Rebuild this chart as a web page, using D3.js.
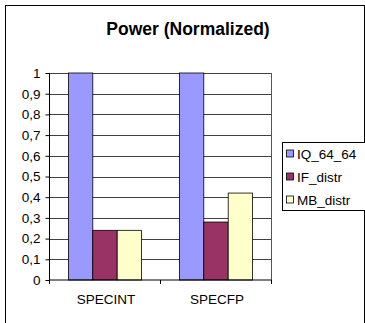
<!DOCTYPE html>
<html><head><meta charset="utf-8">
<script src="https://cdn.jsdelivr.net/npm/d3@7"></script>
<style>body{margin:0;background:#fff}svg{display:block}</style>
</head><body>
<script>
const categories = ["SPECINT", "SPECFP"];
const seriesNames = ["IQ_64_64", "IF_distr", "MB_distr"];
const IQ_64_64 = [1, 1];
const IF_distr = [0.24, 0.28];
const MB_distr = [0.24, 0.42];
const yTicks = [0, 0.1, 0.2, 0.3, 0.4, 0.5, 0.6, 0.7, 0.8, 0.9, 1];
const colors = ["#9999FF", "#993366", "#FFFFCC"];
const seriesValues = [IQ_64_64, IF_distr, MB_distr];

(function () {
const FONT = "Arial, 'Liberation Sans', sans-serif";
const W = 365, H = 323;
const svg = d3.select("body").append("svg").attr("width", W).attr("height", H);
svg.append("rect").attr("x", 5.5).attr("y", 5.5).attr("width", 359).attr("height", 330)
  .attr("fill", "#fff").attr("stroke", "#000").attr("stroke-width", 1);

svg.append("text").attr("x", 188).attr("y", 35).attr("text-anchor", "middle")
  .attr("font-family", FONT).attr("font-weight", "bold")
  .attr("font-size", 17.5).text("Power (Normalized)");

const pL = 49.5, pR = 271.5, pT = 73, pB = 280;
const x0 = d3.scaleBand().domain(categories).range([pL, pR]).paddingInner(0).paddingOuter(0);
const x1 = d3.scaleBand().domain(seriesNames).range([0, x0.bandwidth()]).paddingInner(0).paddingOuter(0.775);
const y = d3.scaleLinear().domain([0, 1]).range([pB, pT]);

// gridlines
svg.append("g").selectAll("line").data(yTicks.filter(d => d > 0)).join("line")
  .attr("x1", pL).attr("x2", pR)
  .attr("y1", d => Math.round(y(d)) + 0.5).attr("y2", d => Math.round(y(d)) + 0.5)
  .attr("stroke", "#000").attr("stroke-width", 1).attr("stroke-opacity", 0.75);
// plot right border
svg.append("line").attr("x1", pR).attr("x2", pR).attr("y1", pT).attr("y2", pB)
  .attr("stroke", "#555");

// bars
const g = svg.append("g");
categories.forEach((c, ci) => {
  seriesNames.forEach((s, si) => {
    const v = seriesValues[si][ci];
    g.append("rect")
      .attr("x", x0(c) + x1(s)).attr("width", x1.bandwidth())
      .attr("y", y(v)).attr("height", y(0) - y(v))
      .attr("fill", colors[si]).attr("stroke", "#000").attr("stroke-width", 0.8);
  });
});

// y axis
const yAxis = d3.axisLeft(y).tickValues(yTicks).tickSize(4).tickPadding(5)
  .tickFormat(d => d === 0 ? "0" : d === 1 ? "1" : d3.format(".1f")(d).replace(".", ","));
const ya = svg.append("g").attr("transform", `translate(${pL},0)`).call(yAxis);
ya.select(".domain").attr("d", `M-0,${pT}V${pB}`);
ya.selectAll("text").attr("font-family", FONT).attr("font-size", 13.5).attr("fill", "#000");
ya.selectAll("line").attr("stroke", "#000");

// x axis
const xa = svg.append("g").attr("transform", `translate(0,${pB})`);
xa.append("line").attr("x1", pL).attr("x2", pR).attr("stroke", "#000");
const bounds = [pL, ...categories.map(c => x0(c) + x0.bandwidth())];
xa.selectAll("line.tk").data(bounds).join("line").attr("class", "tk")
  .attr("x1", d => d).attr("x2", d => d).attr("y1", 0).attr("y2", 4).attr("stroke", "#000");
xa.selectAll("text").data(categories).join("text")
  .attr("x", d => x0(d) + x0.bandwidth() / 2 + 1).attr("y", 24)
  .attr("text-anchor", "middle").attr("font-family", FONT)
  .attr("font-size", 13.5).text(d => d);

// legend
const lg = svg.append("g");
lg.append("rect").attr("x", 282.5).attr("y", 142.5).attr("width", 90).attr("height", 68)
  .attr("fill", "#fff").attr("stroke", "#000");
seriesNames.forEach((s, i) => {
  const yy = 153.5 + i * 23;
  lg.append("rect").attr("x", 286.5).attr("y", yy - 3.5).attr("width", 7).attr("height", 7)
    .attr("fill", colors[i]).attr("stroke", "#000").attr("stroke-width", 0.8);
  lg.append("text").attr("x", 297).attr("y", yy + 5).attr("font-family", FONT)
    .attr("font-size", 13.5).text(s);
});
})();
</script>
</body></html>
